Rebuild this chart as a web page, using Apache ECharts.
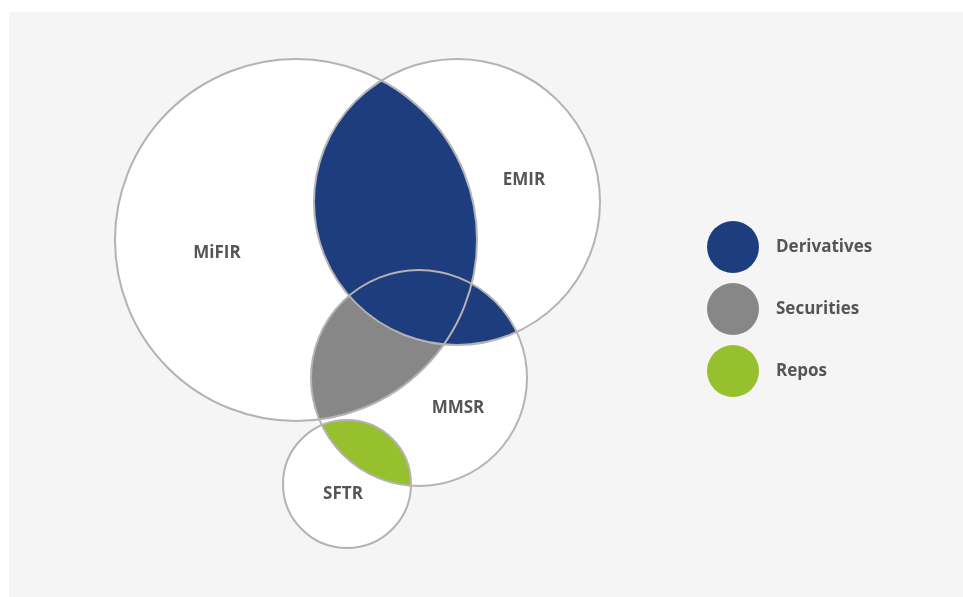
<!DOCTYPE html>
<html>
<head>
<meta charset="utf-8">
<script src="https://cdn.jsdelivr.net/npm/echarts@6/dist/echarts.min.js"></script>
<style>
  html, body { margin: 0; padding: 0; background: #fff; }
  #chart { width: 963px; height: 597px; }
</style>
</head>
<body>
<div id="chart"></div>
<script>
// circles (centre x, centre y, radius) in the chart's own units
const circleNames = ['MiFIR', 'EMIR', 'MMSR', 'SFTR']
const circleX = [296, 457, 419, 347]
const circleY = [240, 202, 378, 484]
const circleR = [181, 143, 108, 64]
// where each circle's name sits
const labelX = [217, 524, 458, 343]
const labelY = [253, 180, 408, 494]

// legend groups and the circle overlaps that make each one
const regionNames = ['Derivatives', 'Securities', 'Repos']
const derivativesPairs = [[0, 1], [1, 2]]
const securitiesPairs = [[0, 2]]
const reposPairs = [[3, 2]]

const colors = ['#1e3d7e', '#878787', '#97c02f']
const textColor = '#555'
const lineColor = '#b3b3b3'

const chart = echarts.init(document.getElementById('chart'))

// points of the overlap of two circles, in data units
const lensPoints = (a, b) => {
  const ca = [circleX[a], circleY[a], circleR[a]]
  const cb = [circleX[b], circleY[b], circleR[b]]
  const pts = []
  const n = 1440
  ;[[ca, cb], [cb, ca]].forEach(([c, o]) => {
    for (let k = 0; k < n; k++) {
      const t = (2 * Math.PI * k) / n
      const x = c[0] + c[2] * Math.cos(t)
      const y = c[1] + c[2] * Math.sin(t)
      if (Math.hypot(x - o[0], y - o[1]) <= o[2] + 0.01) pts.push([x, y])
    }
  })
  let mx = 0
  let my = 0
  pts.forEach((p) => { mx += p[0]; my += p[1] })
  mx /= pts.length
  my /= pts.length
  pts.sort((p, q) => Math.atan2(p[1] - my, p[0] - mx) - Math.atan2(q[1] - my, q[0] - mx))
  return pts
}

const regionSeries = (name, pairs, color, z) => ({
  name: name,
  type: 'custom',
  z: z,
  itemStyle: { color: color },
  data: pairs,
  renderItem: (params, api) => {
    const pts = lensPoints(api.value(0), api.value(1)).map((p) => api.coord(p))
    return {
      type: 'polygon',
      shape: { points: pts },
      style: { fill: api.visual('color') }
    }
  }
})

const circleData = circleNames.map((n, i) => [circleX[i], circleY[i], circleR[i]])

const option = {
  animation: false,
  graphic: [
    {
      type: 'rect',
      z: -10,
      shape: { x: 9, y: 12, width: 954, height: 585 },
      style: { fill: '#f5f5f5' }
    }
  ],
  grid: { left: 0, right: 0, top: 0, bottom: 0 },
  xAxis: { type: 'value', min: 0, max: 963, show: false },
  yAxis: { type: 'value', min: 0, max: 597, inverse: true, show: false },
  legend: {
    data: regionNames,
    orient: 'vertical',
    left: 702,
    top: 216,
    icon: 'circle',
    itemWidth: 52,
    itemHeight: 52,
    itemGap: 10,
    selectedMode: false,
    textStyle: {
      color: textColor,
      fontFamily: 'Open Sans',
      fontWeight: 'bold',
      fontSize: 17,
      padding: [0, 0, 0, 12]
    }
  },
  series: [
    {
      name: 'circles',
      type: 'custom',
      z: 1,
      data: circleData,
      renderItem: (params, api) => {
        const c = api.coord([api.value(0), api.value(1)])
        const r = api.size([api.value(2), 0])[0]
        return {
          type: 'circle',
          shape: { cx: c[0], cy: c[1], r: r },
          style: { fill: '#fff' }
        }
      }
    },
    regionSeries(regionNames[2], reposPairs, colors[2], 2),
    regionSeries(regionNames[1], securitiesPairs, colors[1], 3),
    regionSeries(regionNames[0], derivativesPairs, colors[0], 4),
    {
      name: 'outlines',
      type: 'custom',
      z: 5,
      data: circleData,
      renderItem: (params, api) => {
        const c = api.coord([api.value(0), api.value(1)])
        const r = api.size([api.value(2), 0])[0]
        return {
          type: 'circle',
          shape: { cx: c[0], cy: c[1], r: r },
          style: { fill: null, stroke: lineColor, lineWidth: 2 }
        }
      }
    },
    {
      name: 'labels',
      type: 'custom',
      z: 6,
      data: circleNames.map((n, i) => [labelX[i], labelY[i], n]),
      renderItem: (params, api) => {
        const p = api.coord([api.value(0), api.value(1)])
        return {
          type: 'text',
          x: p[0],
          y: p[1],
          style: {
            text: circleNames[params.dataIndex],
            fill: textColor,
            font: 'bold 17px "Open Sans"',
            align: 'center',
            verticalAlign: 'middle'
          }
        }
      }
    }
  ]
}

chart.setOption(option)
</script>
</body>
</html>
